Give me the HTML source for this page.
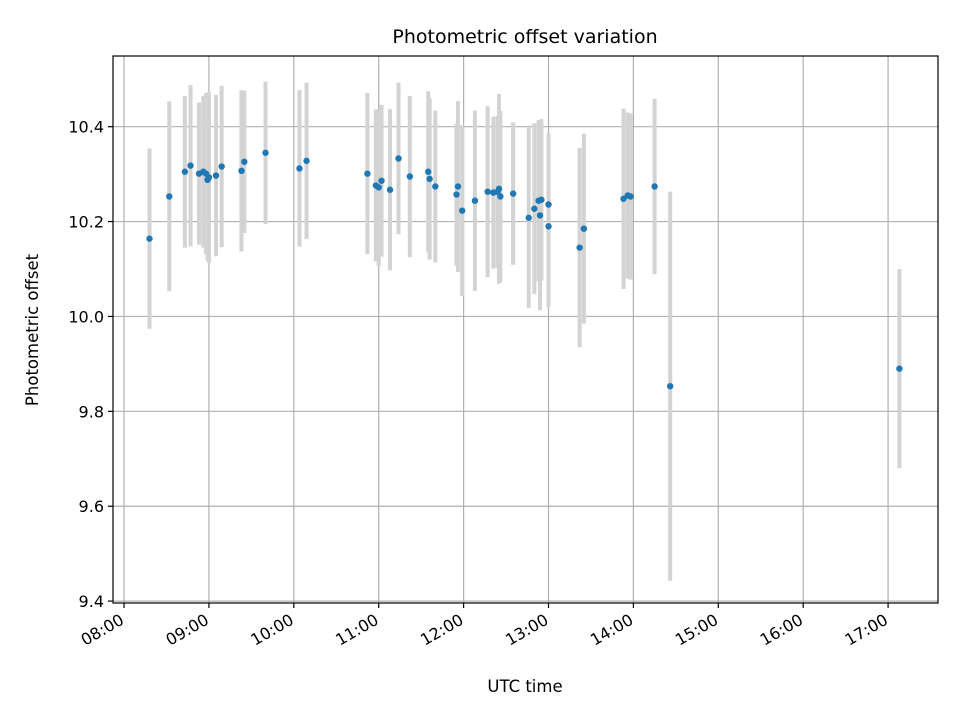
<!DOCTYPE html>
<html><head><meta charset="utf-8"><style>
body{margin:0;background:#fff;}
svg text{font-family:"DejaVu Sans","Liberation Sans",sans-serif;fill:#000;}
</style></head><body>
<svg id="chart" width="960" height="720" xmlns="http://www.w3.org/2000/svg">
<rect width="960" height="720" fill="#fff"/>
<text x="525" y="43" font-size="19" text-anchor="middle">Photometric offset variation</text>
<text x="525" y="692" font-size="16.5" text-anchor="middle">UTC time</text>
<text x="0" y="0" font-size="16.5" text-anchor="middle" transform="translate(38,330) rotate(-90)">Photometric offset</text>
<g id="grid"></g>
<g id="bars"></g>
<g id="pts"></g>
<g id="axes"></g>
</svg>
<script>
const times=["08:18","08:32","08:43","08:47","08:53","08:56","08:58","08:59","09:00","09:05","09:09","09:23","09:25","09:40","10:04","10:09","10:52","10:58","11:00","11:02","11:08","11:14","11:22","11:35","11:36","11:40","11:55","11:56","11:59","12:08","12:17","12:21","12:24","12:25","12:26","12:35","12:46","12:50","12:53","12:54","12:55","13:00","13:00","13:22","13:25","13:53","13:56","13:58","14:15","14:26","17:08"];
const values=[10.164,10.253,10.305,10.318,10.301,10.305,10.301,10.288,10.293,10.297,10.316,10.307,10.326,10.345,10.312,10.328,10.301,10.276,10.272,10.286,10.267,10.333,10.295,10.305,10.29,10.274,10.257,10.274,10.223,10.244,10.263,10.261,10.263,10.269,10.253,10.259,10.208,10.227,10.244,10.213,10.246,10.19,10.236,10.145,10.185,10.248,10.255,10.253,10.274,9.853,9.890];
const errors=[0.19,0.2,0.16,0.17,0.15,0.16,0.17,0.17,0.18,0.17,0.17,0.17,0.15,0.15,0.165,0.165,0.17,0.16,0.165,0.16,0.17,0.16,0.17,0.17,0.17,0.16,0.15,0.18,0.18,0.19,0.18,0.16,0.16,0.2,0.18,0.15,0.19,0.18,0.17,0.2,0.17,0.17,0.15,0.21,0.2,0.19,0.175,0.175,0.185,0.41,0.21];
const xTicks=["08:00","09:00","10:00","11:00","12:00","13:00","14:00","15:00","16:00","17:00"];
const yTicks=[9.4,9.6,9.8,10.0,10.2,10.4];
const L=113,R=938,T=56,B=603;
const xMin=7.870,xMax=17.588,yMin=9.396,yMax=10.549;
function hrs(s){const p=s.split(":");return +p[0]+(+p[1])/60;}
function X(h){return L+(h-xMin)/(xMax-xMin)*(R-L);}
function Y(v){return B-(v-yMin)/(yMax-yMin)*(B-T);}
const NS="http://www.w3.org/2000/svg";
function mk(tag,attrs,parent){const e=document.createElementNS(NS,tag);for(const k in attrs)e.setAttribute(k,attrs[k]);parent.appendChild(e);return e;}
const grid=document.getElementById('grid'),axes=document.getElementById('axes'),bars=document.getElementById('bars'),pts=document.getElementById('pts');
xTicks.forEach(t=>{const x=X(hrs(t));
 const g=mk('line',{x1:x,x2:x,y1:T,y2:B,stroke:'#b0b0b0','stroke-width':1.2},grid);
 
 
 const tk=mk('line',{x1:x,x2:x,y1:B,y2:B+5,stroke:'#000','stroke-width':1.2},axes);
 
 
 const tx=mk('text',{x:0,y:0,'font-size':16,'text-anchor':'end',transform:`translate(${x+1},${B+20}) rotate(-30)`},axes);
 tx.textContent=t;
 
 
});
yTicks.forEach(v=>{const y=Y(v);
 const g=mk('line',{x1:L,x2:R,y1:y,y2:y,stroke:'#b0b0b0','stroke-width':1.2},grid);
 
 
 const tk=mk('line',{x1:L-5,x2:L,y1:y,y2:y,stroke:'#000','stroke-width':1.2},axes);
 
 
 const tx=mk('text',{x:L-9,y:y+6,'font-size':16,'text-anchor':'end'},axes);
 tx.textContent=v.toFixed(1);
 
 
});
const frame=mk('rect',{x:L,y:T,width:R-L,height:B-T,fill:'none',stroke:'#000','stroke-width':1.2},axes);


times.forEach((t,i)=>{const x=X(hrs(t));
 const b=mk('line',{x1:x,x2:x,y1:Y(values[i]+errors[i]),y2:Y(values[i]-errors[i]),stroke:'#d3d3d3','stroke-width':4},bars);
 
 
 const c=mk('circle',{cx:x,cy:Y(values[i]),r:3.2,fill:'#1f77b4'},pts);
 
 
});
</script>
</body></html>
